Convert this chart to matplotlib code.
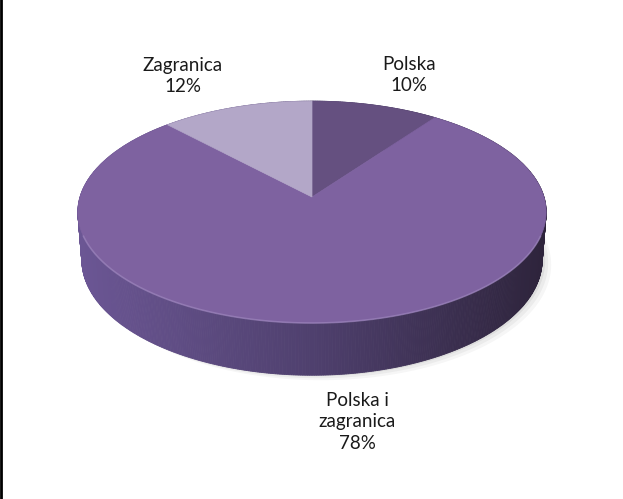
import numpy as np
import matplotlib.pyplot as plt
from matplotlib.patches import Polygon
from matplotlib.lines import Line2D
from matplotlib.colors import LinearSegmentedColormap

# dane wykresu
kategorie = ["Polska", "Polska i\nzagranica", "Zagranica"]
udzialy = [10, 78, 12]
kolory = ["#655080", "#7E62A0", "#B3A7C8"]

# rozmieszczenie etykiet (piksele obrazka)
pozycje_etykiet = [(409, 75), (357, 422), (183, 76)]

# geometria rzutu perspektywicznego (piksele)
W, H = 623, 499
CX, CY = 312, 197
ELEW = np.radians(28)
ODL = 6.5
SKALA = 232 * ODL
GRUB = 0.235

boki = LinearSegmentedColormap.from_list(
    "boki", ["#6B5694", "#4F406E", "#2E243C"])


def rzut(x, y, z):
    # punkt na dysku (x w prawo, y w glab, z w gore) -> piksele
    c, s = np.cos(ELEW), np.sin(ELEW)
    gl = ODL + y * c - z * s
    u = SKALA * x / gl
    v = SKALA * (y * s + z * c) / gl
    return CX + u, CY - v


fig = plt.figure(figsize=(W / 100, H / 100), dpi=100)
ax = fig.add_axes([0, 0, 1, 1])
ax.set_xlim(0, W)
ax.set_ylim(H, 0)
ax.axis("off")

# katy wycinkow, zgodnie z ruchem wskazowek od godziny 12
udzialy_arr = np.array(udzialy, dtype=float)
granice = np.concatenate([[0], np.cumsum(udzialy_arr) / udzialy_arr.sum() * 2 * np.pi])

# cien pod wykresem (glownie po prawej)
th = np.linspace(0, 2 * np.pi, 300)
for dx, dy, a in [(9, 5, 0.035), (6, 3, 0.045), (3, 1, 0.06)]:
    px, py = rzut(np.sin(th), np.cos(th), -GRUB)
    ax.add_patch(Polygon(np.column_stack([px + dx, py + dy]), closed=True,
                         facecolor="black", edgecolor="none", alpha=a))

# sciana boczna
n = 720
th = np.linspace(0, 2 * np.pi, n + 1)
quady = []
for i in range(n):
    t0, t1 = th[i], th[i + 1]
    x0, y0 = np.sin(t0), np.cos(t0)
    x1, y1 = np.sin(t1), np.cos(t1)
    a = rzut(x0, y0, 0)
    b = rzut(x1, y1, 0)
    c = rzut(x1, y1, -GRUB)
    d = rzut(x0, y0, -GRUB)
    srodek_u = (a[0] + b[0]) / 2
    glebia = (y0 + y1) / 2
    quady.append((glebia, [a, b, c, d], srodek_u))
quady.sort(key=lambda q: -q[0])
for glebia, pts, su in quady:
    kol = boki(np.clip((su - 80) / (544 - 80), 0, 1))
    ax.add_patch(Polygon(pts, closed=True, facecolor=kol, edgecolor=kol, lw=0.6))

# gorna powierzchnia wycinkow
for k in range(len(udzialy)):
    t = np.linspace(granice[k], granice[k + 1], 200)
    px, py = rzut(np.sin(t), np.cos(t), 0)
    ox, oy = rzut(0, 0, 0)
    pts = np.column_stack([np.concatenate([[ox], px]), np.concatenate([[oy], py])])
    ax.add_patch(Polygon(pts, closed=True, facecolor=kolory[k],
                         edgecolor=kolory[k], lw=0.5))

# delikatne podswietlenie krawedzi z przodu
t = np.linspace(np.radians(110), np.radians(250), 200)
px, py = rzut(np.sin(t), np.cos(t), 0)
ax.plot(px, py, color="#A993C8", lw=1.2, alpha=0.5, solid_capstyle="round")

# etykiety
for k, nazwa in enumerate(kategorie):
    x, y = pozycje_etykiet[k]
    ax.text(x, y, f"{nazwa}\n{udzialy[k]}%", ha="center", va="center",
            fontsize=13.5, family="Lato", color="#1A1A1A", linespacing=1.32)

# czarna linia przy lewej krawedzi
fig.add_artist(Line2D([0.002, 0.002], [0, 1], color="black", lw=2,
                      transform=fig.transFigure))

fig.savefig("out.png", dpi=100)
